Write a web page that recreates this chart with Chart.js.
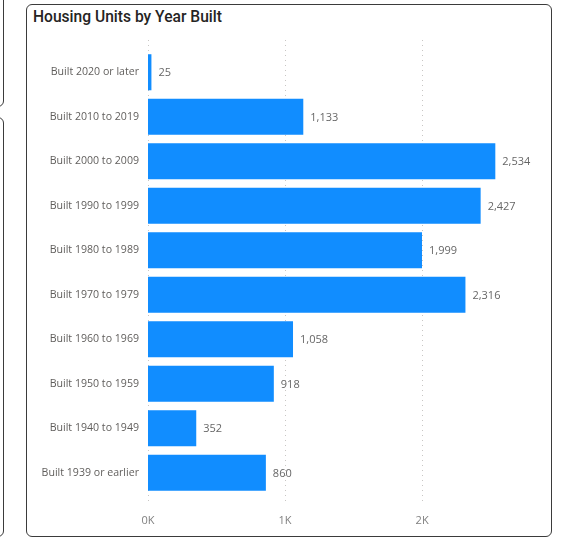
<!DOCTYPE html>
<html>
<head>
<meta charset="utf-8">
<script src="https://cdn.jsdelivr.net/npm/chart.js@4/dist/chart.umd.min.js"></script>
<style>
  html, body { margin: 0; padding: 0; background: #fff; }
  body { width: 568px; height: 540px; position: relative; overflow: hidden; }
  .card { position: absolute; border: 1.5px solid #3b3b3b; border-radius: 6px; background: #fff; box-sizing: border-box; }
  #side1 { left: -200px; top: -20px; width: 204px; height: 127px; }
  #side2 { left: -200px; top: 117px; width: 204px; height: 420px; }
  #main { left: 26px; top: 4px; width: 526px; height: 533px; }
  #title { position: absolute; left: 33px; top: 8px; font-family: Roboto, sans-serif; font-weight: 500; font-size: 15.6px; color: #252423; white-space: nowrap; }
  #chart { position: absolute; left: 0; top: 0; }
</style>
</head>
<body>
<div class="card" id="side1"></div>
<div class="card" id="side2"></div>
<div class="card" id="main"></div>
<div id="title">Housing Units by Year Built</div>
<canvas id="chart" width="568" height="540"></canvas>
<script>
// Housing units by the period the structure was built
const categories = [
  "Built 2020 or later",
  "Built 2010 to 2019",
  "Built 2000 to 2009",
  "Built 1990 to 1999",
  "Built 1980 to 1989",
  "Built 1970 to 1979",
  "Built 1960 to 1969",
  "Built 1950 to 1959",
  "Built 1940 to 1949",
  "Built 1939 or earlier"
];
const units = [25, 1133, 2534, 2427, 1999, 2316, 1058, 918, 352, 860];
const tickValues = [0, 1000, 2000];
const tickLabels = ["0K", "1K", "2K"];

const labelFont = { family: "'Segoe UI', 'Open Sans', 'Noto Sans', sans-serif", size: 10.6 };

// Dotted vertical gridlines that run a little past the plot area
const gridPlugin = {
  id: 'dottedGrid',
  beforeDatasetsDraw(chart) {
    const { ctx, chartArea, scales } = chart;
    ctx.save();
    ctx.strokeStyle = '#c8c6c4';
    ctx.lineWidth = 1;
    ctx.setLineDash([1, 4]);
    tickValues.forEach(v => {
      const x = Math.round(scales.x.getPixelForValue(v)) + 0.5;
      ctx.beginPath();
      ctx.moveTo(x, chartArea.top - 10);
      ctx.lineTo(x, chartArea.bottom + 8);
      ctx.stroke();
    });
    ctx.restore();
  }
};

// Value labels placed just past the end of each bar
const valueLabelPlugin = {
  id: 'valueLabels',
  afterDatasetsDraw(chart) {
    const { ctx } = chart;
    const meta = chart.getDatasetMeta(0);
    ctx.save();
    ctx.font = `11px ${labelFont.family}`;
    ctx.fillStyle = '#666666';
    ctx.textAlign = 'left';
    ctx.textBaseline = 'middle';
    meta.data.forEach((bar, i) => {
      ctx.fillText(units[i].toLocaleString('en-US'), bar.x + 7, bar.y + 1);
    });
    ctx.restore();
  }
};

new Chart(document.getElementById('chart'), {
  type: 'bar',
  data: {
    labels: categories,
    datasets: [{
      data: units,
      backgroundColor: '#118dff',
      borderWidth: 0,
      barPercentage: 0.81,
      categoryPercentage: 1
    }]
  },
  options: {
    indexAxis: 'y',
    responsive: false,
    animation: false,
    layout: { padding: { top: 50, right: 28, bottom: 0, left: 0 } },
    plugins: { legend: { display: false }, tooltip: { enabled: false } },
    scales: {
      x: {
        min: 0,
        max: 2860,
        grid: { display: false, drawTicks: false },
        border: { display: false },
        afterBuildTicks(scale) {
          scale.ticks = tickValues.map(v => ({ value: v }));
        },
        afterFit(scale) { scale.height = 45; },
        ticks: {
          padding: 19,
          color: '#808080',
          font: { family: labelFont.family, size: 11 },
          callback(value) {
            const i = tickValues.indexOf(value);
            return i >= 0 ? tickLabels[i] : '';
          }
        }
      },
      y: {
        grid: { display: false, drawTicks: false },
        border: { display: false },
        afterFit(scale) { scale.width = 148; },
        ticks: { padding: 9, color: '#605e5c', font: labelFont }
      }
    }
  },
  plugins: [gridPlugin, valueLabelPlugin]
});
</script>
</body>
</html>
